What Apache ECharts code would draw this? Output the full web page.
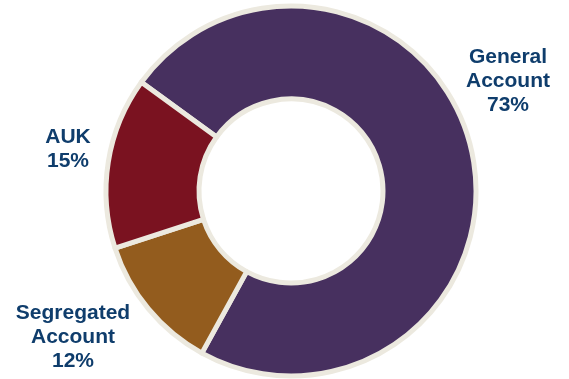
<!DOCTYPE html>
<html>
<head>
<meta charset="utf-8">
<script src="https://cdn.jsdelivr.net/npm/echarts@6/dist/echarts.min.js"></script>
<style>
  html, body { margin: 0; padding: 0; background: #ffffff; }
  #chart { width: 569px; height: 379px; }
</style>
</head>
<body>
<div id="chart"></div>
<script>
// Portfolio split by account (percent of total)
const categories = ['General Account', 'Segregated Account', 'AUK'];
const shares = [73, 12, 15];
const sliceColors = ['#47305f', '#935c1e', '#7a1220'];

// Label anchor points for each slice, in the same order as categories
const labelAnchors = [
  [508, 81],
  [73, 337],
  [68, 149]
];

const chart = echarts.init(document.getElementById('chart'), null, { renderer: 'canvas' });

chart.setOption({
  animation: false,
  backgroundColor: '#ffffff',
  series: [{
    type: 'pie',
    center: [291, 191],
    radius: [92, 185],
    startAngle: 144,
    clockwise: true,
    avoidLabelOverlap: false,
    emphasis: { disabled: true },
    itemStyle: {
      borderColor: '#ece9df',
      borderWidth: 5
    },
    label: {
      show: true,
      position: 'outside',
      formatter: p => p.name.replace(' ', '\n') + '\n' + p.value + '%',
      fontFamily: 'Liberation Sans, Arial, sans-serif',
      fontWeight: 'bold',
      fontSize: 21,
      lineHeight: 24,
      color: '#0f3d6c',
      align: 'center'
    },
    labelLine: { show: false },
    labelLayout: params => ({
      x: labelAnchors[params.dataIndex][0],
      y: labelAnchors[params.dataIndex][1],
      align: 'center',
      verticalAlign: 'middle'
    }),
    data: categories.map((name, i) => ({
      name: name,
      value: shares[i],
      itemStyle: { color: sliceColors[i] }
    }))
  }]
});
</script>
</body>
</html>
